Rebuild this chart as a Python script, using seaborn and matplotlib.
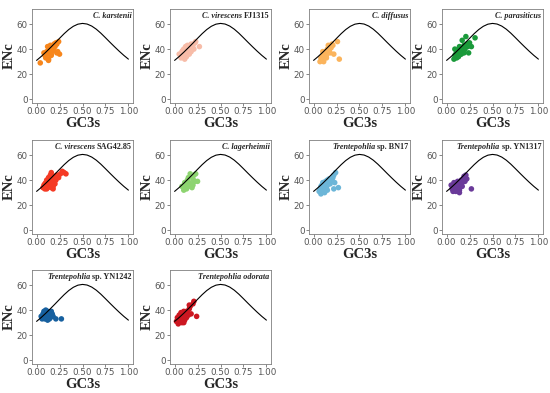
import matplotlib
matplotlib.use("Agg")
import matplotlib.pyplot as plt
import seaborn as sns
import pandas as pd

sns.set_style("white")

# Expected ENc curve (GC3s, ENc)
curve_gc3s = [0.00, 0.05, 0.10, 0.15, 0.20, 0.25, 0.30, 0.35, 0.40, 0.45, 0.50,
              0.55, 0.60, 0.65, 0.70, 0.75, 0.80, 0.85, 0.90, 0.95, 1.00]
curve_enc = [31.0, 34.1, 37.5, 41.1, 44.8, 48.6, 52.3, 55.6, 58.2, 59.9, 60.5,
             60.0, 58.4, 55.9, 52.7, 49.1, 45.4, 41.8, 38.3, 35.0, 32.0]

species = ["C. karstenii", "C. virescens FJ1315", "C. diffusus", "C. parasiticus",
           "C. virescens SAG42.85", "C. lagerheimii", "Trentepohlia sp. BN17",
           "Trentepohlia sp. YN1317", "Trentepohlia sp. YN1242", "Trentepohlia odorata"]

# (italic part, upright part) of each title
title_italic = ["C. karstenii", "C. virescens", "C. diffusus", "C. parasiticus",
                "C. virescens", "C. lagerheimii", "Trentepohlia", "Trentepohlia",
                "Trentepohlia", "Trentepohlia odorata"]
title_plain = ["", " FJ1315", "", "", " SAG42.85", "", " sp. BN17", " sp. YN1317",
               " sp. YN1242", ""]

colors = ["#F7861C", "#F7BCA8", "#FBB45C", "#1A9A3A", "#F53A24", "#8DD470",
          "#6CB6D8", "#6A3A99", "#17609F", "#CC1721"]

gc3s_karstenii = [0.04, 0.08, 0.09, 0.10, 0.11, 0.12, 0.12, 0.13, 0.14, 0.15, 0.15, 0.16,
                  0.17, 0.18, 0.19, 0.20, 0.21, 0.22, 0.22, 0.23, 0.24, 0.25, 0.10, 0.13,
                  0.16, 0.20, 0.14, 0.18]
enc_karstenii = [29, 37, 35, 33, 38, 42, 36, 32, 40, 38, 43, 35, 41, 39, 44, 43, 45, 44,
                 37, 38, 46, 36, 34, 31, 36, 42, 37, 40]

gc3s_fj1315 = [0.05, 0.07, 0.08, 0.09, 0.10, 0.10, 0.11, 0.12, 0.12, 0.13, 0.14, 0.14,
               0.15, 0.15, 0.16, 0.17, 0.18, 0.18, 0.19, 0.20, 0.21, 0.22, 0.23, 0.27,
               0.11, 0.13, 0.16, 0.09]
enc_fj1315 = [36, 33, 38, 35, 37, 40, 34, 38, 42, 36, 40, 43, 37, 41, 39, 42, 38, 44, 41,
              43, 40, 45, 46, 42, 32, 34, 36, 39]

gc3s_diffusus = [0.07, 0.08, 0.09, 0.10, 0.10, 0.11, 0.12, 0.12, 0.13, 0.14, 0.15, 0.15,
                 0.16, 0.17, 0.18, 0.19, 0.20, 0.21, 0.22, 0.26, 0.28, 0.14, 0.11, 0.18]
enc_diffusus = [30, 33, 31, 35, 38, 32, 36, 34, 38, 35, 40, 37, 43, 39, 42, 41, 44, 43,
                36, 46, 32, 33, 30, 37]

gc3s_parasiticus = [0.08, 0.09, 0.10, 0.10, 0.11, 0.12, 0.12, 0.13, 0.14, 0.14, 0.15, 0.15,
                    0.16, 0.17, 0.17, 0.18, 0.19, 0.20, 0.21, 0.22, 0.23, 0.24, 0.25, 0.27,
                    0.31, 0.13, 0.11, 0.16, 0.19, 0.09]
enc_parasiticus = [32, 40, 34, 36, 33, 37, 39, 35, 42, 38, 36, 40, 39, 47, 41, 38, 43, 40,
                   50, 44, 42, 37, 45, 42, 49, 34, 38, 36, 37, 35]

gc3s_sag4285 = [0.07, 0.08, 0.09, 0.10, 0.10, 0.11, 0.12, 0.12, 0.13, 0.14, 0.14, 0.15,
                0.15, 0.16, 0.17, 0.17, 0.18, 0.19, 0.20, 0.21, 0.22, 0.24, 0.26, 0.28,
                0.30, 0.32, 0.11, 0.13, 0.16, 0.19, 0.09, 0.18]
enc_sag4285 = [34, 36, 33, 38, 35, 40, 37, 34, 42, 36, 39, 44, 35, 46, 38, 41, 35, 43, 37,
               40, 44, 42, 45, 47, 46, 45, 33, 36, 34, 39, 37, 33]

gc3s_lagerheimii = [0.08, 0.10, 0.11, 0.12, 0.13, 0.14, 0.15, 0.16, 0.17, 0.18, 0.19,
                    0.20, 0.21, 0.22, 0.23, 0.25, 0.15, 0.18, 0.20, 0.13]
enc_lagerheimii = [35, 32, 38, 34, 36, 40, 42, 38, 45, 37, 34, 41, 44, 39, 45, 39, 35, 43,
                   36, 33]

gc3s_bn17 = [0.06, 0.07, 0.08, 0.09, 0.10, 0.10, 0.11, 0.12, 0.13, 0.14, 0.15, 0.15,
             0.16, 0.17, 0.18, 0.19, 0.20, 0.21, 0.22, 0.23, 0.24, 0.27, 0.22, 0.15,
             0.08, 0.12]
enc_bn17 = [31, 33, 29, 36, 32, 38, 35, 37, 39, 34, 36, 40, 38, 41, 37, 39, 40, 42, 44,
            38, 46, 34, 33, 32, 35, 30]

gc3s_yn1317 = [0.05, 0.06, 0.07, 0.08, 0.08, 0.09, 0.10, 0.10, 0.11, 0.12, 0.12, 0.13,
               0.14, 0.14, 0.15, 0.16, 0.17, 0.18, 0.19, 0.20, 0.21, 0.22, 0.27, 0.14,
               0.11, 0.17]
enc_yn1317 = [36, 33, 31, 35, 38, 33, 36, 31, 37, 34, 39, 35, 38, 30, 36, 40, 38, 41, 43,
              39, 44, 41, 33, 32, 33, 35]

gc3s_yn1242 = [0.05, 0.06, 0.07, 0.08, 0.08, 0.09, 0.10, 0.10, 0.11, 0.12, 0.12, 0.13,
               0.14, 0.14, 0.15, 0.16, 0.17, 0.18, 0.21, 0.27, 0.09, 0.12, 0.15, 0.11]
enc_yn1242 = [35, 33, 37, 35, 39, 33, 36, 40, 34, 37, 39, 35, 38, 33, 36, 39, 37, 35, 33,
              33, 38, 32, 34, 36]

gc3s_odorata = [0.02, 0.03, 0.04, 0.05, 0.05, 0.06, 0.07, 0.07, 0.08, 0.09, 0.09, 0.10,
                0.11, 0.12, 0.12, 0.13, 0.14, 0.15, 0.16, 0.17, 0.18, 0.20, 0.21, 0.24,
                0.08, 0.10, 0.06, 0.13, 0.04, 0.16]
enc_odorata = [31, 34, 29, 32, 36, 31, 34, 38, 30, 33, 36, 39, 32, 35, 37, 34, 38, 36, 41,
               43, 37, 45, 47, 35, 31, 30, 33, 39, 33, 44]

gc3s_all = [gc3s_karstenii, gc3s_fj1315, gc3s_diffusus, gc3s_parasiticus, gc3s_sag4285,
            gc3s_lagerheimii, gc3s_bn17, gc3s_yn1317, gc3s_yn1242, gc3s_odorata]
enc_all = [enc_karstenii, enc_fj1315, enc_diffusus, enc_parasiticus, enc_sag4285,
           enc_lagerheimii, enc_bn17, enc_yn1317, enc_yn1242, enc_odorata]

x_ticks = [0.0, 0.25, 0.5, 0.75, 1.0]
x_tick_labels = ["0.00", "0.25", "0.50", "0.75", "1.00"]
y_ticks = [0, 20, 40, 60]

W, H = 550, 393
fig = plt.figure(figsize=(5.5, 3.93), dpi=100)

col_left = [32, 170, 309, 442]
col_w = 101
row_top = [9, 140, 270]
row_h = 94

serif = ["Times New Roman", "Liberation Serif", "DejaVu Serif"]
curve_df = pd.DataFrame({"GC3s": curve_gc3s, "ENc": curve_enc})
title_fs = 5.9

for i in range(10):
    r, c = divmod(i, 4)
    ax = fig.add_axes([col_left[c] / W, 1 - (row_top[r] + row_h) / H, col_w / W, row_h / H])
    df = pd.DataFrame({"GC3s": gc3s_all[i], "ENc": enc_all[i]})
    sns.scatterplot(data=df, x="GC3s", y="ENc", ax=ax, color=colors[i], s=16,
                    edgecolor="none", zorder=2)
    sns.lineplot(data=curve_df, x="GC3s", y="ENc", ax=ax, color="black", linewidth=0.8,
                 zorder=3)
    ax.set_xlim(-0.05, 1.05)
    ax.set_ylim(-3, 72)
    ax.set_xticks(x_ticks)
    ax.set_xticklabels(x_tick_labels)
    ax.set_yticks(y_ticks)
    ax.tick_params(axis="both", labelsize=6.3, labelcolor="#555555", length=2, width=0.5,
                   color="#555555", pad=1.2, direction="out")
    ax.tick_params(axis="both", which="both", bottom=True, left=True)
    for sp in ax.spines.values():
        sp.set_color("#7f7f7f")
        sp.set_linewidth(0.6)
    ax.set_xlabel("GC3s", fontsize=10.5, fontweight="bold", family=serif, labelpad=0.5)
    ax.set_ylabel("ENc", fontsize=10.5, fontweight="bold", family=serif, labelpad=0.5)
    # title inside top-right
    if title_plain[i]:
        t2 = ax.text(0.985, 0.93, title_plain[i].strip(), transform=ax.transAxes,
                     ha="right", va="center", fontsize=title_fs, fontweight="bold", family=serif)
        fig.canvas.draw()
        bb = t2.get_window_extent()
        x_left = ax.transAxes.inverted().transform((bb.x0, bb.y0))[0]
        ax.text(x_left - 0.018, 0.93, title_italic[i], transform=ax.transAxes,
                ha="right", va="center", fontsize=title_fs, fontweight="bold", style="italic",
                family=serif)
    else:
        ax.text(0.985, 0.93, title_italic[i], transform=ax.transAxes, ha="right",
                va="center", fontsize=title_fs, fontweight="bold", style="italic", family=serif)

fig.savefig("out.png", dpi=100)
